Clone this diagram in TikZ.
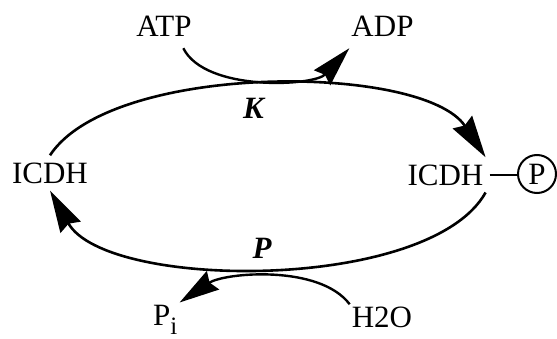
\documentclass[tikz,border=0pt]{standalone}
\usepackage{fontspec}
\setmainfont{Liberation Serif}
\usetikzlibrary{arrows.meta}

\begin{document}
\begin{tikzpicture}[
            x=1pt, y=1pt,
            font=\fontsize{31}{36}\selectfont,
            cycleline/.style={line width=2.6pt, -{Stealth[length=42pt, width=23pt, inset=4pt]}},
            sideline/.style={line width=2.4pt, -{Stealth[length=40pt, width=22pt, inset=4pt]}},
            enzyme/.style={anchor=base, inner xsep=2pt, inner ysep=7pt},
            metabolite/.style={anchor=base, inner sep=2pt},
            catalyst/.style={anchor=base, font=\fontsize{31}{36}\selectfont\bfseries\itshape}
        ]
            \useasboundingbox (0,0) rectangle (557,338);

            % enzyme forms
            \node[enzyme] (icdhL) at (50,155) {ICDH};
            \node[enzyme] (icdhR) at (445.5,153) {ICDH};
            \node[draw, circle, line width=2pt, minimum size=38pt, inner sep=0pt] (phos) at (537,164) {P};
            \draw[line width=2.2pt, shorten <=4pt] (icdhR.east) -- (icdhR.east -| phos.west);

            % kinase and phosphatase
            \node[catalyst] (kin) at (253.5,219) {K};
            \node[catalyst] (pase) at (262,80) {P};

            % cofactors
            \node[metabolite, inner ysep=11pt] (atp) at (164,301) {ATP};
            \node[metabolite, inner ysep=11pt] (adp) at (382.5,301) {ADP};
            \node[metabolite, anchor=base west] (pi) at (151,13) {P\raisebox{-9pt}{\fontsize{25}{28}\selectfont i}};
            \node[metabolite] (water) at (382,11) {H2O};

            % the cycle
            \draw[cycleline] (icdhL.north) .. controls +(62,94) and +(-62,94) .. (icdhR.north east);
            \draw[cycleline] (icdhR.south east) .. controls +(-56,-100) and +(56,-100) .. (icdhL.south);

            % side reactions
            \draw[sideline] (atp.-48) .. controls +(22,-44) and +(-35,-38) .. (adp.south west);
            \draw[sideline] (water.north west) .. controls +(-30,40) and +(45,30) .. (pi.north east);

        \end{tikzpicture}
\end{document}
